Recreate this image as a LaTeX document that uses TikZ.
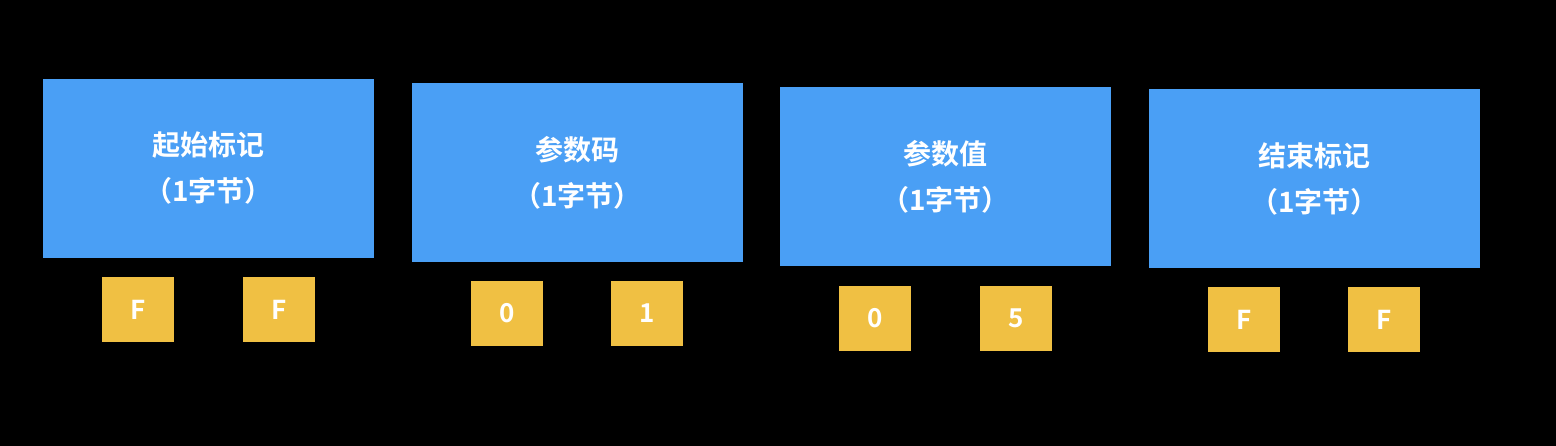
\documentclass[tikz,border=0pt]{standalone}
\usepackage{fontspec}
\setmainfont{Noto Sans CJK SC Bold}
\definecolor{bblue}{HTML}{4A9FF5}
\definecolor{yel}{HTML}{F0C043}
\begin{document}
\begin{tikzpicture}[x=1pt,y=-1pt,
  field/.style={fill=bblue,draw=none,text=white,align=center,font=\fontsize{28}{46}\selectfont,inner sep=0},
  byte/.style={fill=yel,draw=none,text=white,font=\fontsize{26}{30}\selectfont,inner sep=0}]
\fill[black] (0,0) rectangle (1556,446);
\useasboundingbox (0,0) rectangle (1556,446);
\def\fld#1#2#3#4#5{\fill[bblue] (#1,#2) rectangle (#1+331,#2+179);
  \node[field] (#3) at (#1+165.5,#2+89.5) {#4\\（1字节）};}
\fld{43}{79}{f1}{起始标记}{}
\fld{412}{83}{f2}{参数码}{}
\fld{780}{87}{f3}{参数值}{}
\fld{1149}{89}{f4}{结束标记}{}
\def\byt#1#2#3#4{\fill[yel] (#1,#2) rectangle (#1+72,#2+65);
  \node[byte] (#3) at (#1+36,#2+32.5) {#4};}
\byt{102}{277}{b1}{F}
\byt{243}{277}{b2}{F}
\byt{471}{281}{b3}{0}
\byt{611}{281}{b4}{1}
\byt{839}{286}{b5}{0}
\byt{980}{286}{b6}{5}
\byt{1208}{287}{b7}{F}
\byt{1348}{287}{b8}{F}
\end{tikzpicture}
\end{document}
